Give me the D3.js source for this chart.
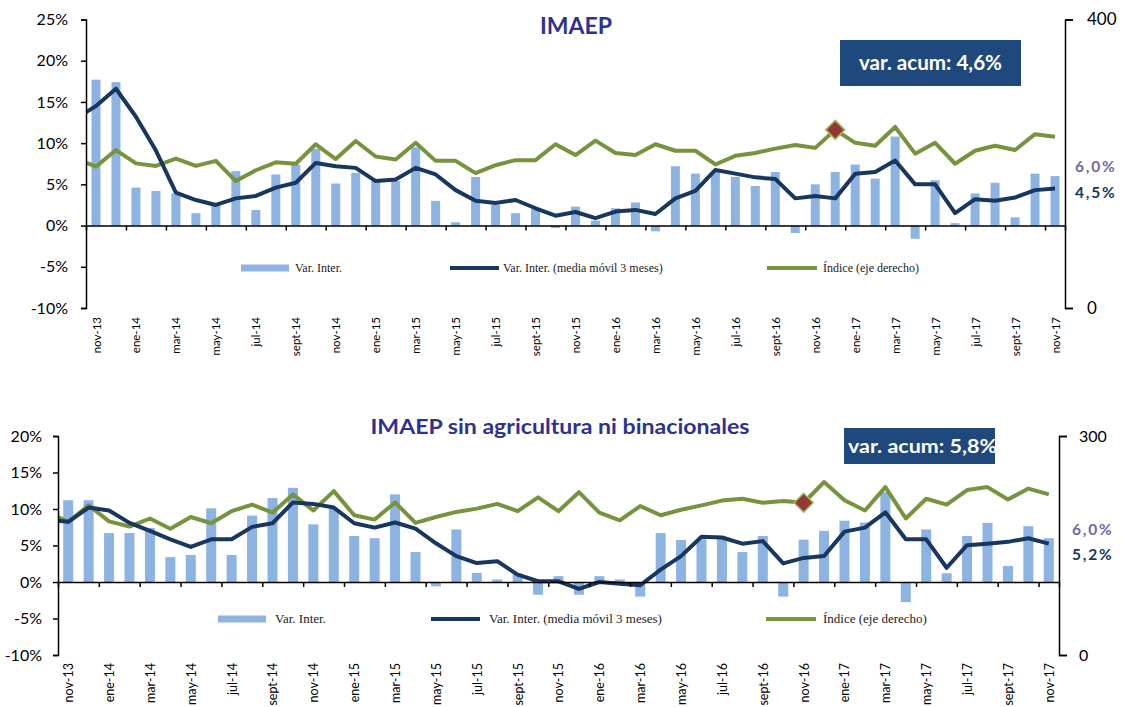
<!DOCTYPE html>
<html>
<head>
<meta charset="utf-8">
<script src="https://cdn.jsdelivr.net/npm/d3@7"></script>
<style>
  body { margin: 0; background: #fff; }
  text { font-family: Lato, "DejaVu Sans", sans-serif; }
</style>
</head>
<body>
<svg id="chart" width="1126" height="707"></svg>
<script>
// meses (nov-13 .. nov-17)
var months = ["nov-13","dic-13","ene-14","feb-14","mar-14","abr-14","may-14","jun-14","jul-14","ago-14","sept-14","oct-14",
  "nov-14","dic-14","ene-15","feb-15","mar-15","abr-15","may-15","jun-15","jul-15","ago-15","sept-15","oct-15",
  "nov-15","dic-15","ene-16","feb-16","mar-16","abr-16","may-16","jun-16","jul-16","ago-16","sept-16","oct-16",
  "nov-16","dic-16","ene-17","feb-17","mar-17","abr-17","may-17","jun-17","jul-17","ago-17","sept-17","oct-17","nov-17"];

// IMAEP
var imaepVar = [17.7,17.4,4.6,4.2,3.9,1.5,2.5,6.6,1.9,6.2,7.4,9.3,5.1,6.4,5.6,5.4,9.5,3.0,0.4,5.9,2.5,1.5,2.0,-0.3,
  2.3,0.6,2.1,2.8,-0.7,7.2,6.3,6.5,5.9,4.8,6.5,-0.9,5.0,6.5,7.4,5.7,10.8,-1.6,5.5,0.3,3.9,5.2,1.0,6.3,6.0];
// first value = oct-13 (clipped at the axis)
var imaepMM = [13.0,14.5,16.6,13.2,9.1,4.0,3.1,2.5,3.3,3.6,4.6,5.2,7.6,7.2,7.0,5.4,5.6,7.0,6.2,4.3,3.0,2.75,3.1,2.1,1.2,
  1.65,0.9,1.7,1.9,1.4,3.3,4.2,6.75,6.3,5.85,5.65,3.3,3.6,3.3,6.3,6.5,7.9,5.0,5.0,1.5,3.2,3.0,3.4,4.3,4.5];
var imaepIdx = [207,196,219,200.5,197,207,197,204,176,191,202,200,227,206.5,231.5,210,206,229,204,204,187,198,205,205,227,
  212,232,215,212,227,218,218,199,211,215,221,226,222,247,229,225,251,214,229,200,218,225,219,241,237.5];

// IMAEP sin agricultura ni binacionales
var sinVar = [11.2,11.2,6.7,6.7,7.4,3.4,3.7,10.1,3.7,9.1,11.5,12.9,7.9,10.0,6.3,6.0,12.0,4.1,-0.6,7.2,1.25,0.35,1.15,-1.75,
  0.8,-1.75,0.8,0.35,-2.0,6.7,5.75,5.85,6.2,4.1,6.3,-2.0,5.8,7.0,8.4,8.15,12.3,-2.75,7.2,1.2,6.3,8.1,2.2,7.65,6.0];
var sinMM = [8.5,8.25,10.2,9.8,8.1,7.0,5.85,4.8,5.85,5.85,7.55,8.05,10.9,10.7,10.2,8.05,7.45,8.15,7.3,5.3,3.55,2.6,2.85,1.0,0.1,
  0.1,-0.95,0,-0.25,-0.45,1.7,3.55,6.2,6.1,5.25,5.6,2.55,3.3,3.55,6.9,7.45,9.55,5.85,5.85,1.95,5.05,5.25,5.5,6.0,5.25];
var sinIdx = [196,182,205,183,176,187,173,189,180.5,197,206,195,220,198,224.5,191.5,185.5,209,181,189,196,200.5,207,197,216,
  197,223,195,184.5,204,191.5,199,205,211.5,214,208.5,211,208.5,237,212,198,230,187,214,206,226,230,213,228,220];

var legendLabels = ["Var. Inter.", "Var. Inter. (media móvil 3 meses)", "Índice (eje derecho)"];

var colors = { bar: "#8db3e2", mm: "#17375e", idx: "#77933c", marker: "#953735", title: "#2e3192", box: "#1f497d", last: "#6e6aa6" };

var svg = d3.select("#chart");
svg.append("rect").attr("width", 1126).attr("height", 707).attr("fill", "#fff");

function drawPanel(p) {
  var g = svg.append("g");
  var x = d3.scaleLinear().domain([-0.5, months.length - 0.5]).range([p.left, p.right]);
  var y = d3.scaleLinear().domain(p.yDomain).range([p.bottom, p.top]);
  var yR = d3.scaleLinear().domain(p.rDomain).range([p.bottom, p.top]);

  var clipId = "clip" + p.id;
  svg.append("clipPath").attr("id", clipId).append("rect")
    .attr("x", p.left).attr("y", p.top - 10).attr("width", p.right - p.left).attr("height", p.bottom - p.top + 20);

  // bars
  g.selectAll("rect.bar").data(p.bars).enter().append("rect").attr("class", "bar")
    .attr("x", function(d, i){ return x(i) - p.barW / 2; })
    .attr("width", p.barW)
    .attr("y", function(d){ return y(Math.max(0, d)); })
    .attr("height", function(d){ return Math.abs(y(d) - y(0)); })
    .attr("fill", colors.bar);

  // lines (index -1 = previous month, clipped)
  var lineL = d3.line().x(function(d, i){ return x(i - 1); }).y(function(d){ return y(d); });
  var lineR = d3.line().x(function(d, i){ return x(i - 1); }).y(function(d){ return yR(d); });
  g.append("path").datum(p.idx).attr("d", lineR).attr("clip-path", "url(#" + clipId + ")")
    .attr("fill", "none").attr("stroke", colors.idx).attr("stroke-width", 4).attr("stroke-linejoin", "round");
  g.append("path").datum(p.mm).attr("d", lineL).attr("clip-path", "url(#" + clipId + ")")
    .attr("fill", "none").attr("stroke", colors.mm).attr("stroke-width", 4).attr("stroke-linejoin", "round");

  // diamond marker
  var mi = p.markerAt;
  g.append("path").attr("d", d3.symbol().type(d3.symbolDiamond2).size(230))
    .attr("transform", "translate(" + x(mi) + "," + yR(p.idx[mi + 1]) + ")")
    .attr("fill", colors.marker).attr("stroke", "#9bbb59").attr("stroke-width", 1.5);

  // left axis
  var ax = g.append("g").attr("transform", "translate(" + p.left + ",0)")
    .call(d3.axisLeft(y).tickValues(d3.range(p.yDomain[0], p.yDomain[1] + 1, 5)).tickSize(5).tickPadding(p.tickPad)
      .tickFormat(function(d){ return d + "%"; }));
  ax.select(".domain").attr("stroke", "#000").attr("stroke-width", 1.5);
  ax.selectAll(".tick line").attr("stroke", "#000").attr("stroke-width", 1.5);
  ax.selectAll("text").attr("font-size", p.yFont).attr("fill", "#000");

  // right axis
  var ar = g.append("g").attr("transform", "translate(" + p.right + ",0)")
    .call(d3.axisRight(yR).tickValues(p.rDomain).tickSize(8).tickPadding(p.rPad));
  ar.select(".domain").attr("stroke", "#000").attr("stroke-width", 1.5);
  ar.selectAll(".tick line").attr("stroke", "#000").attr("stroke-width", 1.5);
  ar.selectAll("text").attr("font-size", p.rFont).attr("fill", "#000");

  // zero line with tick marks every two months
  var tickIdx = d3.range(1.5, months.length - 1, 2);
  var az = g.append("g").attr("transform", "translate(0," + y(0) + ")")
    .call(d3.axisBottom(x).tickValues(tickIdx).tickSize(5).tickFormat(""));
  az.select(".domain").attr("stroke", "#000").attr("stroke-width", 1.5);
  az.selectAll(".tick line").attr("stroke", "#000").attr("stroke-width", 1.5);

  // month labels
  var labIdx = d3.range(0, months.length, 2);
  var am = g.append("g").attr("transform", "translate(0," + p.bottom + ")")
    .call(d3.axisBottom(x).tickValues(labIdx).tickSize(0).tickFormat(function(d){ return months[d]; }));
  am.select(".domain").remove();
  am.selectAll("text").attr("font-size", p.xFont).attr("fill", "#000")
    .attr("transform", "rotate(-90)").attr("text-anchor", "end")
    .attr("x", -p.xPad).attr("y", 0).attr("dy", "0.35em");

  // title
  g.append("text").attr("x", p.titleX).attr("y", p.titleY).attr("text-anchor", "middle")
    .attr("font-size", p.titleSize).attr("font-weight", "bold").attr("fill", colors.title)
    .attr("textLength", p.titleLen).attr("lengthAdjust", "spacingAndGlyphs").text(p.title);

  // accumulated variation box
  g.append("rect").attr("x", p.box[0]).attr("y", p.box[1]).attr("width", p.box[2]).attr("height", p.box[3]).attr("fill", colors.box);
  g.append("text").attr("x", p.boxText[0]).attr("y", p.boxText[1]).attr("font-size", p.boxText[2])
    .attr("font-weight", "bold").attr("fill", "#fff")
    .attr("textLength", p.boxText[3]).attr("lengthAdjust", "spacingAndGlyphs").text(p.boxLabel);

  // last values
  g.append("text").attr("x", p.lastX).attr("y", p.lastY[0]).attr("font-size", 15.5).attr("font-weight", "bold")
    .attr("letter-spacing", 1.8).attr("fill", colors.last).text(p.lastLabels[0]);
  g.append("text").attr("x", p.lastX).attr("y", p.lastY[1]).attr("font-size", 15.5).attr("font-weight", "bold")
    .attr("letter-spacing", 1.8).attr("fill", colors.mm).text(p.lastLabels[1]);

  // legend
  var lg = g.append("g").attr("transform", "translate(0," + p.legendY + ")");
  lg.append("rect").attr("x", p.legendX[0]).attr("y", -3.5).attr("width", 48).attr("height", 7).attr("fill", colors.bar);
  lg.append("line").attr("x1", p.legendX[1]).attr("x2", p.legendX[1] + 49).attr("stroke", colors.mm).attr("stroke-width", 4);
  lg.append("line").attr("x1", p.legendX[2]).attr("x2", p.legendX[2] + 50).attr("stroke", colors.idx).attr("stroke-width", 4);
  legendLabels.forEach(function(t, i){
    lg.append("text").attr("x", p.legendX[i] + p.legendGap[i]).attr("y", 4)
      .style("font-family", "'Liberation Serif', 'Times New Roman', serif").attr("font-size", p.legendFont)
      .attr("fill", "#222").text(t);
  });
}

drawPanel({
  id: 1, left: 86, right: 1065, top: 19.5, bottom: 308,
  yDomain: [-10, 25], rDomain: [0, 400], barW: 9,
  bars: imaepVar, mm: imaepMM, idx: imaepIdx, markerAt: 37,
  yFont: 16, tickPad: 13, rFont: 17, rPad: 14, xFont: 11.5, xPad: 9,
  title: "IMAEP", titleX: 576, titleY: 34, titleSize: 23, titleLen: 72,
  box: [840, 40, 181, 46], boxLabel: "var. acum: 4,6%", boxText: [859, 70, 20, 143],
  lastX: 1075, lastY: [172, 198], lastLabels: ["6,0%", "4,5%"],
  legendY: 268, legendX: [241, 450, 767], legendGap: [54, 53, 56], legendFont: 12
});

drawPanel({
  id: 2, left: 58, right: 1059, top: 436, bottom: 655,
  yDomain: [-10, 20], rDomain: [0, 300], barW: 10,
  bars: sinVar, mm: sinMM, idx: sinIdx, markerAt: 36,
  yFont: 16, tickPad: 11, rFont: 16, rPad: 12, xFont: 12.5, xPad: 8,
  title: "IMAEP sin agricultura ni binacionales", titleX: 560, titleY: 434, titleSize: 21, titleLen: 379,
  box: [844, 428, 151, 36], boxLabel: "var. acum: 5,8%", boxText: [848, 453, 18, 149],
  lastX: 1072, lastY: [535, 560], lastLabels: ["6,0%", "5,2%"],
  legendY: 619, legendX: [218, 431, 766], legendGap: [57, 58, 57], legendFont: 13
});
</script>
</body>
</html>
